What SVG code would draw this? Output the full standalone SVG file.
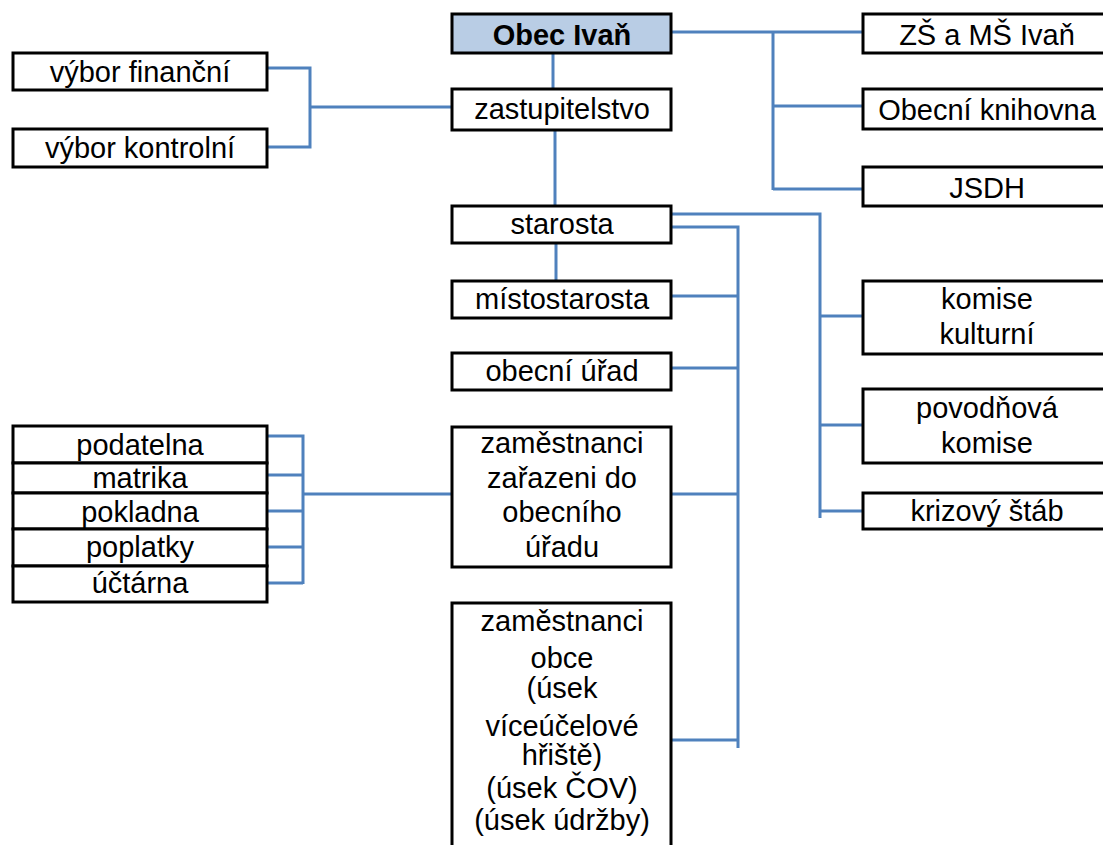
<svg xmlns="http://www.w3.org/2000/svg" width="1103" height="845" viewBox="0 0 1103 845">
<style>
.box{fill:#ffffff;stroke:#000000;stroke-width:3}
.top{fill:#b9cde5;stroke:#000000;stroke-width:3}
.t{font-family:"Liberation Sans",Arial,sans-serif;font-size:29px;fill:#000000;text-anchor:middle}
.b{font-weight:bold}
.c{fill:none;stroke:#4f81bd;stroke-width:3}
</style>
<rect width="1103" height="845" fill="#ffffff"/>
<g id="connectors">
<path class="c" d="M553,53V89"/>
<path class="c" d="M555,130V206"/>
<path class="c" d="M556,243V281"/>
<path class="c" d="M671,32H863M773,32V190M773,106H863M773,189H863"/>
<path class="c" d="M267,68H310V147H267M310,107H452"/>
<path class="c" d="M671,214H820V518M820,316H863M820,425H863M820,511H863"/>
<path class="c" d="M671,227H738V748M671,296H738M671,368H738M671,494H738M671,740H738"/>
<path class="c" d="M267,436H303V584M267,475H303M267,511H303M267,547H303M267,583H303M303,494H452"/>
</g>
<g id="obec"><rect class="top" x="452" y="14" width="219" height="39"/><text class="t b" x="562" y="45">Obec Ivaň</text></g>
<g id="zastupitelstvo"><rect class="box" x="452" y="89" width="219" height="41"/><text class="t" x="562" y="119">zastupitelstvo</text></g>
<g id="starosta"><rect class="box" x="452" y="206" width="219" height="37"/><text class="t" x="562" y="234">starosta</text></g>
<g id="mistostarosta"><rect class="box" x="452" y="281" width="219" height="37"/><text class="t" x="562" y="309">místostarosta</text></g>
<g id="obecni-urad"><rect class="box" x="452" y="353" width="219" height="37"/><text class="t" x="562" y="381">obecní úřad</text></g>
<g id="zamestnanci-uradu"><rect class="box" x="452" y="427" width="219" height="140"/>
<text class="t" x="562" y="453">zaměstnanci</text><text class="t" x="562" y="488">zařazeni do</text><text class="t" x="562" y="522">obecního</text><text class="t" x="562" y="557">úřadu</text></g>
<g id="zamestnanci-obce"><rect class="box" x="452" y="603" width="219" height="270"/>
<text class="t" x="562" y="631">zaměstnanci</text><text class="t" x="562" y="668">obce</text><text class="t" x="562" y="698">(úsek</text><text class="t" x="562" y="736">víceúčelové</text><text class="t" x="562" y="765">hřiště)</text><text class="t" x="562" y="798">(úsek ČOV)</text><text class="t" x="562" y="830">(úsek údržby)</text></g>
<g id="vybor-financni"><rect class="box" x="13" y="53" width="254" height="37"/><text class="t" x="140" y="82">výbor finanční</text></g>
<g id="vybor-kontrolni"><rect class="box" x="13" y="129" width="254" height="38"/><text class="t" x="140" y="158">výbor kontrolní</text></g>
<g id="podatelna"><rect class="box" x="13" y="426" width="254" height="37"/><text class="t" x="140" y="455">podatelna</text></g>
<g id="matrika"><rect class="box" x="13" y="463" width="254" height="30"/><text class="t" x="140" y="488">matrika</text></g>
<g id="pokladna"><rect class="box" x="13" y="493" width="254" height="36"/><text class="t" x="140" y="522">pokladna</text></g>
<g id="poplatky"><rect class="box" x="13" y="529" width="254" height="37"/><text class="t" x="140" y="557">poplatky</text></g>
<g id="uctarna"><rect class="box" x="13" y="566" width="254" height="36"/><text class="t" x="140" y="593">účtárna</text></g>
<g id="zs-ms"><rect class="box" x="863" y="14" width="250" height="39"/><text class="t" x="987" y="45">ZŠ a MŠ Ivaň</text></g>
<g id="knihovna"><rect class="box" x="863" y="89" width="250" height="40"/><text class="t" x="987" y="120">Obecní knihovna</text></g>
<g id="jsdh"><rect class="box" x="863" y="167" width="250" height="39"/><text class="t" x="987" y="198">JSDH</text></g>
<g id="komise-kulturni"><rect class="box" x="863" y="281" width="250" height="73"/><text class="t" x="987" y="309">komise</text><text class="t" x="987" y="344">kulturní</text></g>
<g id="povodnova-komise"><rect class="box" x="863" y="389" width="250" height="74"/><text class="t" x="987" y="418">povodňová</text><text class="t" x="987" y="453">komise</text></g>
<g id="krizovy-stab"><rect class="box" x="863" y="493" width="250" height="36"/><text class="t" x="987" y="521">krizový štáb</text></g>
</svg>
